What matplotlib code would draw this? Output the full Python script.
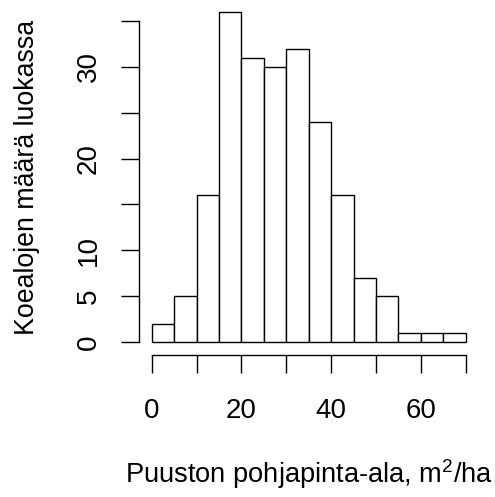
import numpy as np
import matplotlib
matplotlib.use("Agg")
import matplotlib.pyplot as plt

# histogram of basal area per plot, 5 m2/ha classes
bin_edges = [0, 5, 10, 15, 20, 25, 30, 35, 40, 45, 50, 55, 60, 65, 70]
counts = [2, 5, 16, 36, 31, 30, 32, 24, 16, 7, 5, 1, 1, 1]

x_ticks = [0, 10, 20, 30, 40, 50, 60, 70]
x_labels = ["0", "", "20", "", "40", "", "60", ""]
y_ticks = [0, 5, 10, 15, 20, 25, 30, 35]
y_labels = ["0", "5", "10", "", "20", "", "30", ""]

plt.rcParams['font.family'] = ['Liberation Sans', 'DejaVu Sans']
plt.rcParams['mathtext.fontset'] = 'custom'
plt.rcParams['mathtext.rm'] = 'Liberation Sans'
plt.rcParams['mathtext.it'] = 'Liberation Sans'

fig = plt.figure(figsize=(4.95, 4.97), dpi=100)
ax = fig.add_axes([0.2812, 0.2853, 0.6851, 0.7173])

lefts = np.array(bin_edges[:-1])
widths = np.diff(bin_edges)
ax.bar(lefts, counts, width=widths, align='edge', color='white',
       edgecolor='black', linewidth=1.0)

# R-style axes: limits padded by 4%, axis lines only span the ticks
xr = bin_edges[-1] - bin_edges[0]
ax.set_xlim(bin_edges[0] - 0.04 * xr, bin_edges[-1] + 0.04 * xr)
ymax = max(counts)
ax.set_ylim(-0.04 * ymax, ymax * 1.04)

for side in ['top', 'right']:
    ax.spines[side].set_visible(False)
ax.spines['left'].set_bounds(y_ticks[0], y_ticks[-1])
ax.spines['bottom'].set_bounds(x_ticks[0], x_ticks[-1])
ax.spines['left'].set_linewidth(1.0)
ax.spines['bottom'].set_linewidth(1.0)

ax.set_xticks(x_ticks)
ax.set_xticklabels(x_labels)
ax.set_yticks(y_ticks)
ax.set_yticklabels(y_labels, rotation=90, va='center')
ax.tick_params(axis='both', direction='out', length=13, width=1.0,
               labelsize=20, color='black')
ax.tick_params(axis='x', pad=18)
ax.tick_params(axis='y', pad=14)

ax.set_xlabel("Puuston pohjapinta-ala, m$\\mathrm{^2}$/ha", fontsize=19.6,
              labelpad=24)
ax.set_ylabel("Koealojen määrä luokassa", fontsize=19.3, labelpad=26)

fig.savefig("out.png", dpi=100)
